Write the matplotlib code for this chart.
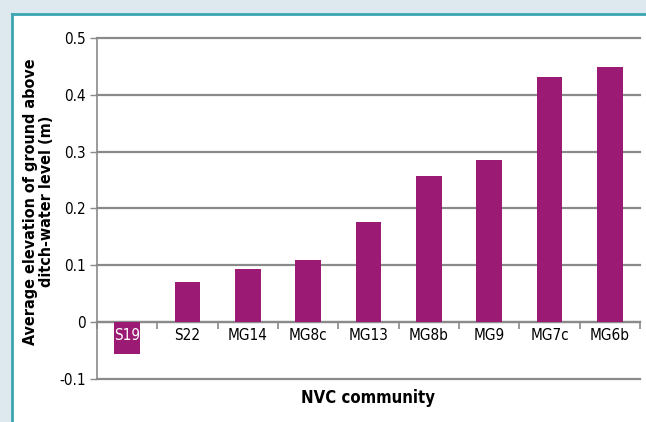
import numpy as np
import matplotlib.pyplot as plt
from matplotlib.patches import Rectangle

# NVC communities and mean elevation above ditch water (m)
communities = ['S19', 'S22', 'MG14', 'MG8c', 'MG13', 'MG8b', 'MG9', 'MG7c', 'MG6b']
elevation = [-0.056, 0.070, 0.094, 0.110, 0.177, 0.257, 0.286, 0.431, 0.449]
y_ticks = [-0.1, 0, 0.1, 0.2, 0.3, 0.4, 0.5]
y_labels = ['-0.1', '0', '0.1', '0.2', '0.3', '0.4', '0.5']

plt.rcParams['font.family'] = ['DejaVu Sans']
plt.rcParams['font.stretch'] = 'condensed'

fig = plt.figure(figsize=(6.46, 4.22), dpi=100)
fig.patch.set_facecolor('#dde9ef')

# white panel with teal border on top and left
panel = Rectangle((12/646, 0), 1, 1 - 14/422, transform=fig.transFigure,
                  facecolor='white', edgecolor='none', zorder=-5)
fig.patches.append(panel)
fig.add_artist(plt.Line2D([12/646, 12/646], [0, 1 - 14/422], color='#3ba6b2', lw=2,
                          transform=fig.transFigure, zorder=-4))
fig.add_artist(plt.Line2D([12/646, 1], [1 - 14/422, 1 - 14/422], color='#3ba6b2', lw=2,
                          transform=fig.transFigure, zorder=-4))

ax = fig.add_axes([97/646, 1 - 379/422, 543/646, 341/422])
ax.set_zorder(2)
ax.set_facecolor('none')

x = np.arange(len(communities))
ax.bar(x, elevation, width=0.43, color='#9b1b74', zorder=3)

ax.set_xlim(-0.5, len(communities) - 0.5)
ax.set_ylim(-0.1, 0.5)
ax.set_yticks(y_ticks)
ax.set_yticklabels(y_labels, fontsize=11)
ax.yaxis.grid(True, color='#8a8a8a', lw=1.6)
for gl in ax.get_ygridlines():
    gl.set_clip_on(False)
ax.tick_params(axis='y', length=5, width=1, color='#8a8a8a', pad=3)

# category axis along zero
ax.spines['bottom'].set_position(('data', 0))
ax.spines['bottom'].set_color('#8a8a8a')
ax.spines['bottom'].set_linewidth(1.6)
ax.spines['left'].set_color('#8a8a8a')
ax.spines['left'].set_linewidth(1.2)
ax.spines['top'].set_visible(False)
ax.spines['right'].set_visible(False)
ax.set_xticks(x)
ax.set_xticklabels(communities, fontsize=11)
ax.set_xticks(np.arange(len(communities) + 1) - 0.5, minor=True)
ax.tick_params(axis='x', which='major', length=0, pad=4)
ax.tick_params(axis='x', which='minor', length=5, width=1.2, color='#8a8a8a')
ax.xaxis.set_zorder(4)
ax.get_xticklabels()[0].set_color('white')

ax.set_ylabel('Average elevation of ground above\nditch-water level (m)', fontsize=11.5,
              fontweight='bold', labelpad=4, linespacing=1.05)
ax.yaxis.label.set_y(0.52)
fig.text(368/646, 1 - 398/422, 'NVC community', fontsize=12, fontweight='bold',
         ha='center', va='center')

plt.savefig('out.png', dpi=100, facecolor=fig.get_facecolor())
